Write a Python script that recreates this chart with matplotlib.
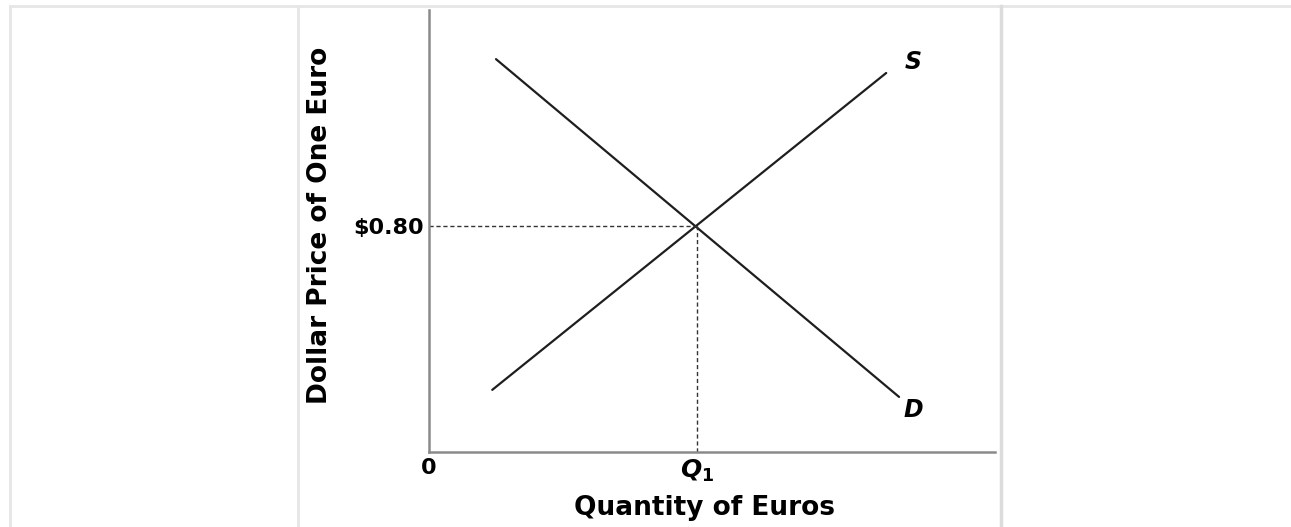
import matplotlib.pyplot as plt
from matplotlib.lines import Line2D

# market for euros: quantity on x, dollar price of one euro on y
supply_q = [1.18, 8.53]
supply_p = [0.22, 1.342]
demand_q = [1.25, 8.77]
demand_p = [1.391, 0.195]
q_eq = 5.0
p_eq = 0.80
x_ticks = [0, q_eq]
x_tick_labels = ["0", "$\\mathit{Q}_{\\mathit{1}}$"]
y_ticks = [p_eq]
y_tick_labels = ["$0.80"]

plt.rcParams["mathtext.fontset"] = "custom"
plt.rcParams["mathtext.it"] = "DejaVu Sans:bold:italic"
plt.rcParams["mathtext.rm"] = "DejaVu Sans:bold"

W, H = 1291, 527
fig = plt.figure(figsize=(W / 100, H / 100), dpi=100)
fig.patch.set_facecolor("white")

# faint page frame
frame = "#e6e6e6"
fig.add_artist(Line2D([10 / W, 1], [1 - 6 / H, 1 - 6 / H], color=frame, lw=2, zorder=0))
fig.add_artist(Line2D([10 / W, 10 / W], [0, 1 - 6 / H], color=frame, lw=2, zorder=0))
fig.add_artist(Line2D([298 / W, 298 / W], [0, 1 - 6 / H], color=frame, lw=2, zorder=0))
fig.add_artist(Line2D([1001 / W, 1001 / W], [0, 1 - 6 / H], color="#dcdcdc", lw=2.5, zorder=0))

ax = fig.add_axes([429 / W, 1 - 452 / H, 566 / W, 442 / H])
ax.patch.set_alpha(0)
ax.set_xlim(0, 10.56)
ax.set_ylim(0, 1.565)

ax.plot(supply_q, supply_p, color="#1e1e1e", lw=1.6, solid_capstyle="round")
ax.plot(demand_q, demand_p, color="#1e1e1e", lw=1.6, solid_capstyle="round")
ax.plot([0, q_eq], [p_eq, p_eq], color="#333333", lw=1.0, ls=(0, (3, 2)))
ax.plot([q_eq, q_eq], [0, p_eq], color="#333333", lw=1.0, ls=(0, (3, 2)))

ax.text(9.03, 1.38, "S", fontsize=17, fontweight="bold", style="italic",
        family="DejaVu Sans", ha="center", va="center")
ax.text(9.03, 0.149, "D", fontsize=17, fontweight="bold", style="italic",
        family="DejaVu Sans", ha="center", va="center")

for side in ["top", "right"]:
    ax.spines[side].set_visible(False)
for side in ["left", "bottom"]:
    ax.spines[side].set_color("#8a8a8a")
    ax.spines[side].set_linewidth(1.8)

ax.set_xticks(x_ticks)
ax.set_xticklabels(x_tick_labels)
ax.set_yticks(y_ticks)
ax.set_yticklabels(y_tick_labels)
ax.tick_params(length=0)
for lab in ax.get_xticklabels() + ax.get_yticklabels():
    lab.set_fontfamily("DejaVu Sans")
    lab.set_fontweight("bold")
    lab.set_fontsize(16)
ax.get_xticklabels()[1].set_fontsize(18)
ax.tick_params(axis="x", pad=4)
ax.tick_params(axis="y", pad=4)

ax.set_xlabel("Quantity of Euros", fontsize=19, fontweight="bold",
              family="DejaVu Sans")
ax.xaxis.set_label_coords(275 / 566, -43 / 442)
ax.set_ylabel("Dollar Price of One Euro", fontsize=19, fontweight="bold",
              family="DejaVu Sans")
ax.yaxis.set_label_coords(-96 / 566, (452 - 225) / 442)

fig.savefig("out.png", dpi=100)
